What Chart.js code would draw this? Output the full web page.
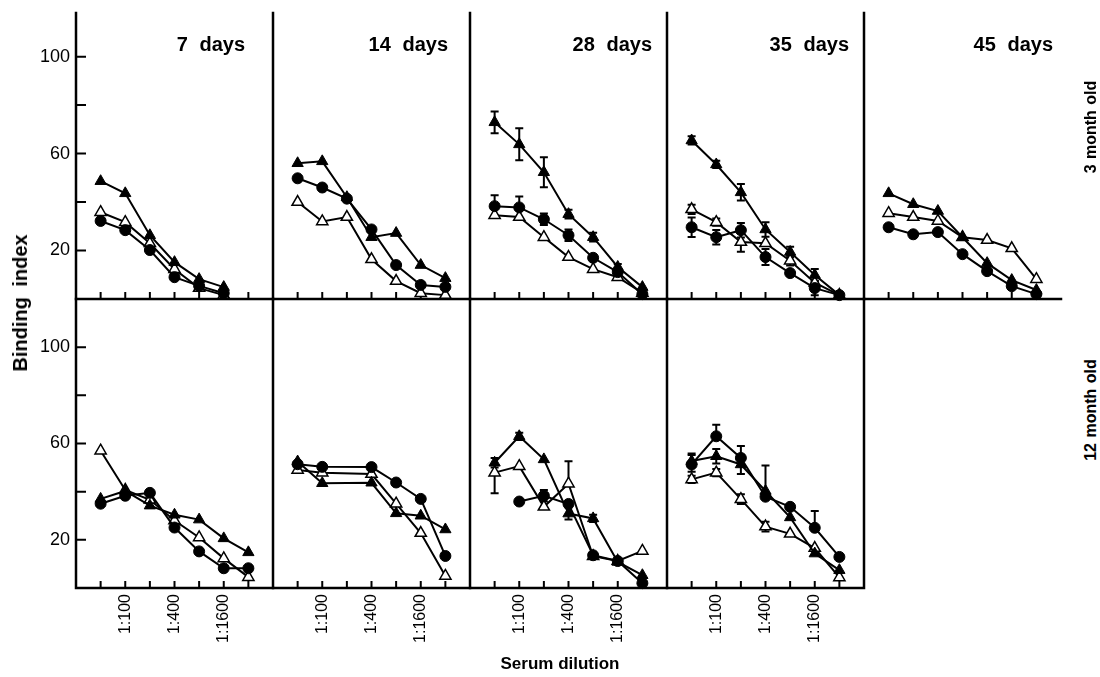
<!DOCTYPE html>
<html lang="en">
<head>
  <meta charset="UTF-8">
  <title>Binding index vs serum dilution</title>
  <script src="https://cdn.jsdelivr.net/npm/chart.js"></script>
  <style>
    body { margin: 0; background: #fff; }
    #wrap { position: relative; width: 1100px; height: 677px; overflow: hidden; background: #fff; }
    #wrap canvas { position: absolute; }
    .lbl { position: absolute; font-family: 'Liberation Sans', Arial, sans-serif; font-weight: bold; color: #000; white-space: nowrap; line-height: 20px; }
    .rot { transform: translate(-50%, -50%) rotate(-90deg); }
  </style>
</head>
<body>
<div id="wrap"></div>

<script>
  // Labels
  const panelTitles = ['7 days', '14 days', '28 days', '35 days', '45 days'];
  const rowLabels = ['3 month old', '12 month old'];
  const dilutions = ['1:50', '1:100', '1:200', '1:400', '1:800', '1:1600', '1:3200'];
  const labeledDilutions = ['1:100', '1:400', '1:1600'];
  const yTicks = [20, 40, 60, 80, 100];
  const yLabeled = [20, 60, 100];

  // 3 month old (binding index per dilution step)
  const m3d7Tri  = [48.6, 43.6, 26.3, 15.2, 8.2, 4.9, null];
  const m3d7Circ = [32.2, 28.4, 20.2, 9.0, 5.4, 2.4, null];
  const m3d7Open = [35.8, 31.7, 23.0, 12.3, 4.5, 1.6, null];

  const m3d14Tri  = [56.0, 56.8, 42.0, 25.5, 27.2, 14.0, 8.6];
  const m3d14Circ = [49.8, 46.0, 41.4, 28.7, 14.0, 5.8, 5.0];
  const m3d14Open = [40.0, 32.0, 33.8, 16.4, 7.4, 2.4, 1.6];

  const m3d28Tri    = [72.9, 63.8, 52.3, 35.0, 25.5, 13.2, 4.9];
  const m3d28TriSe  = [4.5, 6.6, 6.2, 1.8, 1.8, 1.2, 0];
  const m3d28Circ   = [38.3, 37.8, 32.9, 26.3, 17.0, 11.1, 2.0];
  const m3d28CircSe = [4.5, 4.5, 2.4, 2.4, 0, 0, 0];
  const m3d28Open   = [34.6, 33.8, 25.5, 17.3, 12.3, 9.0, 2.5];

  const m3d35Tri    = [65.4, 55.5, 44.0, 28.7, 19.4, 9.9, 1.6];
  const m3d35TriSe  = [1.7, 1.5, 3.4, 3.0, 2.2, 2.5, 0];
  const m3d35Circ   = [29.6, 25.5, 28.4, 17.3, 10.7, 4.5, 1.6];
  const m3d35CircSe = [4.0, 3.0, 3.0, 3.3, 0, 3.0, 0];
  const m3d35Open   = [37.0, 31.7, 23.5, 23.0, 15.8, 6.7, 1.6];
  const m3d35OpenSe = [1.9, 1.5, 4.0, 0, 2.0, 0, 0];

  const m3d45Tri  = [43.6, 39.1, 36.3, 25.5, 14.8, 7.8, 3.7];
  const m3d45Circ = [29.6, 26.7, 27.6, 18.5, 11.5, 5.3, 2.0];
  const m3d45Open = [35.4, 33.8, 32.2, 25.5, 24.3, 20.9, 8.2];

  // 12 month old
  const m12d7Tri  = [37.0, 40.3, 34.2, 30.4, 28.4, 20.6, 14.8];
  const m12d7Circ = [35.0, 38.3, 39.5, 25.1, 15.2, 8.2, 8.2];
  const m12d7Open = [57.0, 40.7, 36.6, 28.0, 21.0, 12.3, 4.5];

  const m12d14Tri  = [52.5, 43.5, null, 43.7, 31.0, 30.0, 24.3];
  const m12d14Circ = [51.4, 50.3, null, 50.2, 43.8, 37.0, 13.3];
  const m12d14Open = [49.0, 47.9, null, 47.3, 35.0, 22.8, 5.0];

  const m12d28Tri      = [52.0, 63.0, 53.4, 30.9, 28.9, 10.8, 5.3];
  const m12d28TriSe    = [2.0, 1.5, 0, 2.5, 1.5, 0, 0];
  const m12d28Circ     = [null, 35.9, 38.3, 34.9, 13.6, 11.2, 2.0];
  const m12d28CircSe   = [0, 0, 2.4, 0, 0, 0, 0];
  const m12d28Open     = [47.9, 50.6, 33.7, 43.3, 13.2, 11.2, 15.4];
  const m12d28OpenUp   = [0, 0, 0, 9.3, 0, 0, 0];
  const m12d28OpenDown = [8.6, 0, 0, 0, 0, 0, 0];

  const m12d35Tri      = [52.7, 54.7, 51.3, 40.3, 29.3, 14.3, 7.4];
  const m12d35TriSe    = [2.5, 3.0, 4.0, 0, 0, 0, 0];
  const m12d35Circ     = [51.3, 63.0, 54.0, 37.9, 33.7, 25.0, 12.9];
  const m12d35CircUp   = [4.5, 4.8, 5.0, 13.0, 0, 7.0, 0];
  const m12d35CircDown = [3.0, 0, 0, 0, 0, 0, 0];
  const m12d35Open     = [45.1, 47.9, 36.9, 25.5, 22.5, 16.6, 4.4];
  const m12d35OpenSe   = [1.5, 1.5, 2.0, 2.0, 0, 0, 0];

  // Panel grid (row 0 = 3 month old, row 1 = 12 month old)
  const panels = [
    { row: 0, col: 0, series: [['tri', m3d7Tri], ['circ', m3d7Circ], ['open', m3d7Open]] },
    { row: 0, col: 1, series: [['tri', m3d14Tri], ['circ', m3d14Circ], ['open', m3d14Open]] },
    { row: 0, col: 2, series: [['tri', m3d28Tri, m3d28TriSe], ['circ', m3d28Circ, m3d28CircSe], ['open', m3d28Open]] },
    { row: 0, col: 3, series: [['tri', m3d35Tri, m3d35TriSe], ['circ', m3d35Circ, m3d35CircSe], ['open', m3d35Open, m3d35OpenSe]] },
    { row: 0, col: 4, series: [['tri', m3d45Tri], ['circ', m3d45Circ], ['open', m3d45Open]] },
    { row: 1, col: 0, series: [['tri', m12d7Tri], ['circ', m12d7Circ], ['open', m12d7Open]] },
    { row: 1, col: 1, series: [['tri', m12d14Tri], ['circ', m12d14Circ], ['open', m12d14Open]] },
    { row: 1, col: 2, series: [['tri', m12d28Tri, m12d28TriSe], ['circ', m12d28Circ, m12d28CircSe], ['open', m12d28Open, m12d28OpenUp, m12d28OpenDown]] },
    { row: 1, col: 3, right: true, series: [['tri', m12d35Tri, m12d35TriSe], ['circ', m12d35Circ, m12d35CircUp, m12d35CircDown], ['open', m12d35Open, m12d35OpenSe]] }
  ];

  // Layout
  const colLeft = [76, 273, 470, 667, 864];
  const colW = 197;
  const rowTop = [13, 299];
  const rowBottom = [299, 588];
  const rowMax = [118, 120];
  const titleRight = [245, 448, 652, 849, 1053];
  const P = 14, YW = 60, XH = 70;
  const family = "'Liberation Sans', Arial, sans-serif";

  const markers = {
    tri:  { pointStyle: 'triangle', pointRadius: 6.5, pointBackgroundColor: '#000', pointBorderColor: '#000', pointBorderWidth: 1 },
    circ: { pointStyle: 'circle', pointRadius: 5.5, pointBackgroundColor: '#000', pointBorderColor: '#000', pointBorderWidth: 1 },
    open: { pointStyle: 'triangle', pointRadius: 6.5, pointBackgroundColor: '#fff', pointBorderColor: '#000', pointBorderWidth: 1.5 }
  };

  // fix an axis box to a given size and drop the label overhang padding
  function fixBox(s, horizontal, size) {
    if (horizontal) s.height = size; else s.width = size;
    s.paddingTop = 0;
    s.paddingBottom = 0;
    s.paddingLeft = 0;
    s.paddingRight = 0;
  }

  // axes frame, inward ticks and error bars
  const frame = {
    id: 'frame',
    beforeDatasetsDraw(chart, args, opts) {
      const { ctx, chartArea: a } = chart;
      const x = chart.scales.x, y = chart.scales.y;
      ctx.save();
      ctx.strokeStyle = '#000';
      ctx.lineCap = 'square';
      ctx.lineWidth = 2.5;
      ctx.beginPath();
      ctx.moveTo(a.left, a.top);
      ctx.lineTo(a.left, a.bottom);
      ctx.lineTo(a.right, a.bottom);
      if (opts.right) ctx.lineTo(a.right, a.top);
      ctx.stroke();

      ctx.lineCap = 'butt';
      ctx.lineWidth = 2;
      ctx.beginPath();
      for (let i = 1; i <= dilutions.length; i++) {
        const px = x.getPixelForValue(i);
        ctx.moveTo(px, a.bottom);
        ctx.lineTo(px, a.bottom - 7);
      }
      if (opts.yTicks) {
        yTicks.forEach(v => {
          const py = y.getPixelForValue(v);
          ctx.moveTo(a.left, py);
          ctx.lineTo(a.left + 10, py);
        });
      }
      ctx.stroke();

      chart.data.datasets.forEach(ds => {
        const up = ds.errUp, down = ds.errDown;
        if (!up && !down) return;
        ds.values.forEach((v, i) => {
          if (v == null) return;
          const u = (up && up[i]) || 0, d = (down && down[i]) || 0;
          if (!u && !d) return;
          const px = x.getPixelForValue(i + 1);
          const yt = y.getPixelForValue(v + u), yb = y.getPixelForValue(v - d);
          ctx.beginPath();
          ctx.moveTo(px, yt);
          ctx.lineTo(px, yb);
          if (u) { ctx.moveTo(px - 4, yt); ctx.lineTo(px + 4, yt); }
          if (d) { ctx.moveTo(px - 4, yb); ctx.lineTo(px + 4, yb); }
          ctx.stroke();
        });
      });
      ctx.restore();
    }
  };

  const wrap = document.getElementById('wrap');

  function addText(text, css, rotate) {
    const d = document.createElement('div');
    d.className = rotate ? 'lbl rot' : 'lbl';
    d.textContent = text;
    Object.assign(d.style, css);
    wrap.appendChild(d);
  }

  panels.forEach(p => {
    const showX = p.row === 1, showY = p.col === 0;
    const left = colLeft[p.col] - P - (showY ? YW : 0);
    const top = rowTop[p.row] - P;
    const w = colW + 2 * P + (showY ? YW : 0);
    const h = rowBottom[p.row] - rowTop[p.row] + 2 * P + (showX ? XH : 0);
    const cv = document.createElement('canvas');
    cv.width = w;
    cv.height = h;
    cv.style.left = left + 'px';
    cv.style.top = top + 'px';
    cv.style.width = w + 'px';
    cv.style.height = h + 'px';
    wrap.appendChild(cv);

    const datasets = p.series.map(([kind, values, up, down]) => Object.assign({
      values,
      errUp: up || null,
      errDown: down || up || null,
      data: values.map((v, i) => v == null ? null : { x: i + 1, y: v }).filter(Boolean),
      borderColor: '#000',
      borderWidth: 2,
      tension: 0,
      clip: false
    }, markers[kind]));

    new Chart(cv, {
      type: 'line',
      data: { datasets },
      plugins: [frame],
      options: {
        responsive: false,
        animation: false,
        devicePixelRatio: 1,
        layout: { padding: P },
        plugins: {
          legend: { display: false },
          tooltip: { enabled: false },
          frame: { right: !!p.right, yTicks: showY }
        },
        scales: {
          x: {
            type: 'linear', min: 0, max: 8,
            display: showX,
            grid: { display: false, drawTicks: false },
            border: { display: false },
            afterFit: s => fixBox(s, true, showX ? XH : 0),
            ticks: {
              stepSize: 1, autoSkip: false, minRotation: 90, maxRotation: 90, padding: 6,
              color: '#000', font: { family, size: 16 },
              callback: v => {
                const d = dilutions[v - 1];
                return labeledDilutions.includes(d) ? d : '';
              }
            }
          },
          y: {
            type: 'linear', min: 0, max: rowMax[p.row],
            display: showY,
            grid: { display: false, drawTicks: false },
            border: { display: false },
            afterFit: s => fixBox(s, false, showY ? YW : 0),
            ticks: {
              stepSize: 20, padding: 6, color: '#000', font: { family, size: 18 },
              callback: v => yLabeled.includes(v) ? v : ''
            }
          }
        }
      }
    });
  });

  // Texts
  panelTitles.forEach((t, c) => {
    addText(t, { right: (1100 - titleRight[c]) + 'px', top: '34px', fontSize: '20px', wordSpacing: '6px' });
  });
  addText('Binding index', { left: '20px', top: '303px', fontSize: '20px', wordSpacing: '5px' }, true);
  addText(rowLabels[0], { left: '1091px', top: '127px', fontSize: '16px', wordSpacing: '1px' }, true);
  addText(rowLabels[1], { left: '1091px', top: '410px', fontSize: '16px', wordSpacing: '1px' }, true);
  addText('Serum dilution', { left: '560px', top: '664px', fontSize: '17px', transform: 'translate(-50%, -50%)' });
</script>
</body>
</html>
